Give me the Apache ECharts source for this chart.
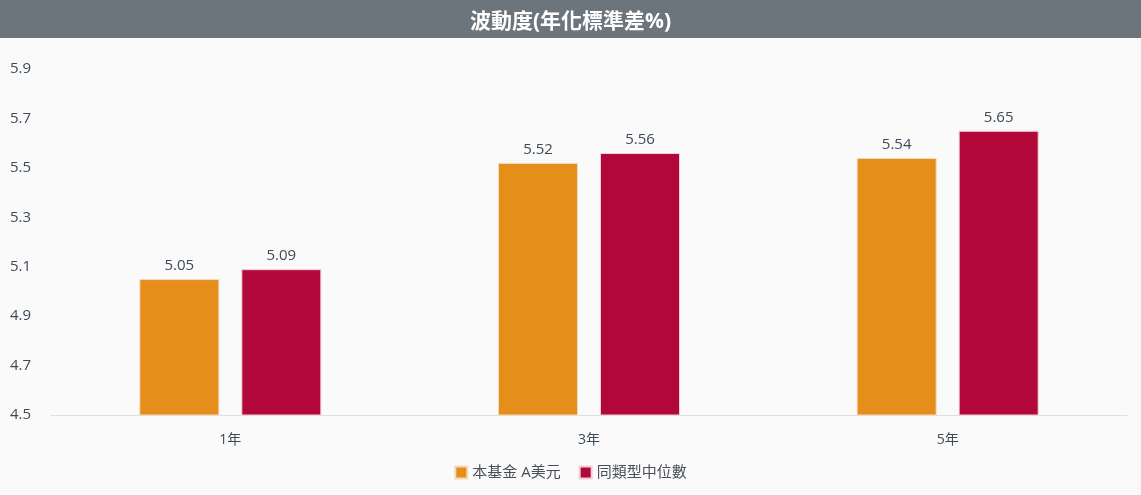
<!DOCTYPE html>
<html><head><meta charset="utf-8">
<script src="https://cdn.jsdelivr.net/npm/echarts@6/dist/echarts.min.js"></script>
<style>html,body{margin:0;padding:0;background:#fafafa}#c{width:1141px;height:495px}</style>
</head><body><div id="c"></div>
<script>
var categories = ['1年', '3年', '5年'];
var fundValues = [5.05, 5.52, 5.54];
var peerValues = [5.09, 5.56, 5.65];
var seriesNames = ['本基金 A美元', '同類型中位數'];
var yTickLabels = [4.5, 4.7, 4.9, 5.1, 5.3, 5.5, 5.7, 5.9];
var titleText = '波動度(年化標準差%)';

var font = '"Open Sans", "Noto Sans CJK TC", sans-serif';
var txt = '#3f4a58';
var chart = echarts.init(document.getElementById('c'));
chart.setOption({
  backgroundColor: '#fafafa',
  animation: false,
  textStyle: { fontFamily: font },
  graphic: [{ type: 'rect', left: 0, top: 0, z: -1, shape: { width: 1141, height: 38 }, style: { fill: '#6b757b' } }],
  title: { text: titleText, left: 'center', top: 7, textStyle: { color: '#fff', fontSize: 21, fontWeight: 'bold', fontFamily: font } },
  legend: { bottom: 10, left: 'center', itemWidth: 12, itemHeight: 12, itemGap: 18, icon: 'rect',
    textStyle: { color: '#4a4f57', fontSize: 15, fontFamily: font }, data: seriesNames },
  grid: { left: 51, right: 14, top: 69, bottom: 80 },
  xAxis: { type: 'category', data: categories,
    axisLine: { lineStyle: { color: '#e0e0e0' } }, axisTick: { show: false },
    axisLabel: { color: txt, fontSize: 14, margin: 18, fontFamily: font } },
  yAxis: { type: 'value', min: 4.5, max: 5.9,
    splitLine: { show: false }, axisLine: { show: false }, axisTick: { show: false },
    axisLabel: { customValues: yTickLabels, align: 'left', margin: 41, color: txt, fontSize: 15, fontFamily: font,
      formatter: function (v) { return v.toFixed(1); } } },
  series: [
    { name: seriesNames[0], type: 'bar', data: fundValues, barWidth: 80, barGap: '27.5%',
      itemStyle: { color: '#e58e1a', borderColor: '#f3d9c0', borderWidth: 1 },
      label: { show: true, position: 'top', distance: 6, color: txt, fontSize: 15, fontFamily: font, formatter: function(p){return p.value.toFixed(2);} } },
    { name: seriesNames[1], type: 'bar', data: peerValues, barWidth: 80,
      itemStyle: { color: '#b10839', borderColor: '#efd0d8', borderWidth: 1 },
      label: { show: true, position: 'top', distance: 6, color: txt, fontSize: 15, fontFamily: font, formatter: function(p){return p.value.toFixed(2);} } }
  ]
});
</script></body></html>
